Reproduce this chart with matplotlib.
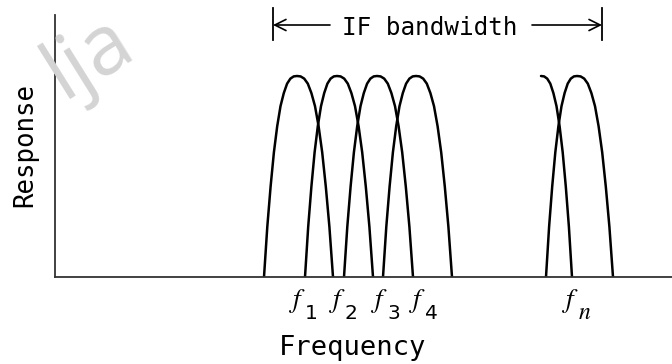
"""Filter bank inside the IF bandwidth: overlapping channel responses."""

import matplotlib
matplotlib.use("Agg")
import matplotlib.pyplot as plt

plt.rcParams["mathtext.fontset"] = "stix"

# channel responses, frequency given in drawing units (left edge of axis = 55)
centers = [297, 337, 377, 416, 541, 577]
left_hw = [33, 32, 33, 33, None, 31]   # None -> only right half is shown
right_hw = [36, 36, 36, 36, 31, 36]

# normalized half-profile of one channel
prof_u = [0.0, 0.1, 0.2, 0.3, 0.4, 0.5, 0.6, 0.7, 0.8, 0.9, 1.0]
prof_h = [1.0, 0.998, 0.987, 0.962, 0.915, 0.85, 0.75, 0.62, 0.45, 0.25, 0.0]

# channel labels f_1 .. f_n under the axis
f_x = [298, 338, 380, 418, 571]
f_sub = ["1", "2", "3", "4", "n"]

bw_lo, bw_hi = 273, 602

W, H = 672, 364
fig = plt.figure(figsize=(W / 100, H / 100), dpi=100)

# watermark in the corner
fig.text(30 / W, 1 - 116 / H, "lja", fontsize=60, color="#d4d4d4", rotation=32,
         family="Open Sans", ha="left", va="bottom", zorder=0)

ax = fig.add_axes([55 / W, 87 / H, 617 / W, 262 / H])
ax.set_xlim(55, 672)
ax.set_ylim(0, 262 / 201)
ax.patch.set_alpha(0)
for s in ["top", "right"]:
    ax.spines[s].set_visible(False)
for s in ["left", "bottom"]:
    ax.spines[s].set_color("#333333")
    ax.spines[s].set_linewidth(1.3)
ax.set_xticks([])
ax.set_yticks([])


def py(p):
    # pixel row of the picture -> response value
    return (277 - p) / 201


for c, lh, rh in zip(centers, left_hw, right_hw):
    xs, ys = [], []
    if lh is not None:
        xs += [c - lh * u for u in prof_u[::-1]]
        ys += prof_h[::-1]
    xs += [c + rh * u for u in prof_u]
    ys += prof_h
    ax.plot(xs, ys, color="black", lw=1.8, solid_capstyle="round")

for x, sub in zip(f_x, f_sub):
    ax.text(x, py(301), "$f$", fontsize=19.5, ha="center", va="center")
    if sub == "n":
        ax.text(x + 7, py(319), "$n$", fontsize=17, ha="left", va="baseline")
    else:
        ax.text(x + 7, py(319), sub, fontsize=14.5, family="DejaVu Sans",
                ha="left", va="baseline")

# IF bandwidth marker
y_bw = py(25)
for x in [bw_lo, bw_hi]:
    ax.plot([x, x], [py(8), py(40)], color="black", lw=1.3, clip_on=False)
for tip, tail in [(bw_lo, 330), (bw_hi, 532)]:
    ax.annotate("", xy=(tip, y_bw), xytext=(tail, y_bw),
                arrowprops=dict(arrowstyle="->", lw=1.2, color="black",
                                shrinkA=0, shrinkB=0, mutation_scale=20),
                annotation_clip=False)
ax.text(430, py(35), "IF bandwidth", fontsize=17.5,
        family="DejaVu Sans Mono", ha="center", va="baseline")

fig.text(25 / W, 1 - 145 / H, "Response", rotation=90, fontsize=18.5,
         family="DejaVu Sans Mono", ha="center", va="center")
fig.text(353 / W, 1 - 355 / H, "Frequency", fontsize=19.5,
         family="DejaVu Sans Mono", ha="center", va="baseline")

fig.savefig("out.png", dpi=100)
